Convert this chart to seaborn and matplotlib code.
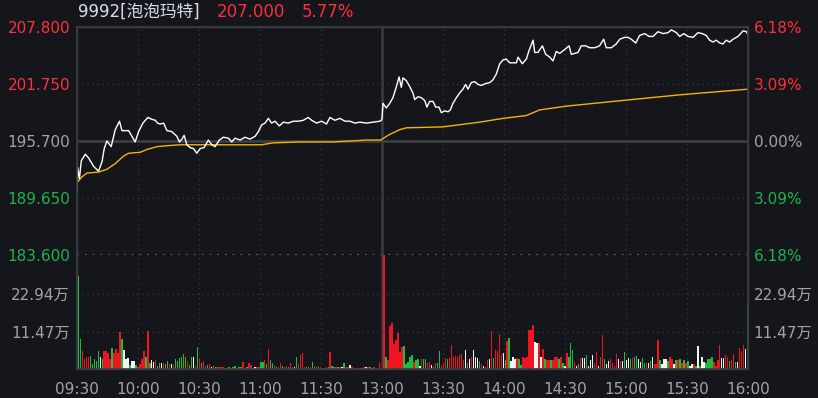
import matplotlib
matplotlib.use("Agg")
import matplotlib.pyplot as plt
import numpy as np
import pandas as pd
import seaborn as sns

# ---- data ----
prev_close = 195.7
price_ticks = [207.8, 201.75, 195.7, 189.65, 183.6]
pct_labels = ['6.18%', '3.09%', '0.00%', '3.09%', '6.18%']
vol_ticks = [11.47, 22.94]
vol_labels = ['11.47万', '22.94万']
time_ticks = [0, 30, 60, 90, 120, 150, 180, 210, 240, 270, 300, 330]
time_labels = ['09:30', '10:00', '10:30', '11:00', '11:30', '13:00',
               '13:30', '14:00', '14:30', '15:00', '15:30', '16:00']

# minute index since 09:30 (lunch break removed)
price_min = [0, 0.3, 1.2, 2.1, 4.1, 5.7, 8.2, 10.6, 12.3, 13.4, 14.7, 16.8, 18.8, 20.9, 22.1,
             25.4, 27.5, 28.6, 30.3, 32.4, 34.9, 36.8, 38.5, 39.6, 40.9, 42.6, 44.2, 46.6,
             49.1, 50.4, 51.6, 52.7, 54.0, 55.6, 57.3, 58.9, 60.6, 62.5, 64.6, 66.3, 67.9,
             70.0, 72.0, 74.5, 76.1, 77.7, 80.2, 82.6, 85.1, 87.6, 89.2, 90.8, 92.5, 94.1,
             95.7, 97.4, 99.5, 101.5, 103.9, 106.4, 108.8, 111.3, 113.7, 115.4, 117.8, 120.3,
             122.7, 124.4, 126.8, 129.3, 131.8, 134.2, 136.7, 139.1, 142.4, 145.7, 148.9, 149.7,
             150.0, 150.5, 152.1, 153.8, 155.4, 156.7, 158.4, 159.5, 160.3, 162.0, 163.6,
             165.2, 166.1, 167.7, 169.3, 171.0, 172.1, 173.4, 175.1, 176.4, 178.0, 179.2,
             180.8, 182.5, 183.6, 184.9, 186.6, 188.2, 189.8, 191.1, 192.3, 193.9, 195.6,
             197.2, 198.9, 201.0, 203.0, 204.6, 206.2, 207.9, 209.5, 211.1, 212.8, 214.4,
             216.1, 216.9, 219.0, 221.0, 222.3, 224.3, 225.1, 226.7, 228.9, 230.5, 232.5,
             234.1, 235.7, 237.4, 239.8, 242.0, 243.1, 244.8, 246.4, 248.0, 250.2, 252.1,
             254.6, 257.0, 259.0, 260.3, 262.8, 265.2, 266.9, 269.3, 271.0, 272.6, 274.8,
             276.7, 279.2, 281.3, 283.3, 285.7, 288.2, 290.7, 292.3, 294.8, 296.4, 298.4,
             300.5, 303.0, 305.4, 307.5, 309.5, 311.1, 312.8, 314.4, 316.1, 317.7, 319.3,
             321.0, 322.6, 325.1, 327.6, 329.2, 330.0]
price = [190.4, 192.9, 191.7, 193.6, 194.3, 193.9, 193.0, 192.5, 193.5, 194.9, 195.7, 195.1,
         196.9, 197.8, 196.8, 196.8, 196.0, 195.6, 196.7, 197.6, 198.2, 198.0, 197.9, 197.6,
         197.5, 197.6, 196.8, 196.7, 196.2, 195.6, 195.9, 196.3, 195.3, 195.0, 194.9, 194.4,
         194.9, 195.0, 195.8, 195.3, 195.1, 195.8, 196.1, 196.0, 195.6, 196.0, 195.8, 196.1,
         195.9, 196.2, 196.7, 197.4, 197.6, 198.1, 197.6, 197.8, 197.3, 197.7, 197.6, 197.8,
         197.8, 197.9, 198.2, 197.9, 197.6, 197.8, 197.5, 198.2, 197.9, 198.1, 197.8, 197.8,
         197.6, 197.7, 197.6, 197.7, 197.8, 197.9,
         198.1, 199.7, 199.2, 199.7, 200.3, 201.2, 202.5, 201.4, 202.4, 202.1, 201.5, 200.8,
         200.1, 200.4, 200.3, 200.0, 199.3, 199.9, 199.9, 199.3, 199.3, 198.7, 198.9, 198.8,
         199.0, 199.7, 200.3, 200.8, 201.2, 201.7, 201.2, 201.9, 202.0, 201.7, 201.6, 201.8,
         201.9, 202.2, 202.8, 203.9, 204.3, 204.4, 204.0, 204.0, 204.0, 204.6, 203.9, 204.4,
         205.3, 206.4, 205.1, 205.1, 205.8, 204.9, 204.6, 204.2, 205.2, 205.0, 205.4, 205.8,
         204.9, 205.0, 205.1, 205.8, 205.8, 205.6, 205.6, 205.8, 206.5, 205.6, 205.6, 206.0,
         206.5, 206.7, 206.7, 206.5, 206.1, 206.9, 207.1, 206.8, 206.8, 207.3, 207.1, 207.2,
         207.5, 207.2, 206.8, 207.1, 206.8, 206.7, 207.2, 207.1, 206.9, 206.4, 206.2, 206.4,
         206.1, 206.0, 206.4, 206.2, 206.5, 206.8, 207.4, 207.3, 207.0]

avg_min = [0, 2.5, 4.9, 10.6, 14.7, 18.8, 22.9, 25.4, 31.1, 34.4, 39.3, 44.2, 50.7, 90.8,
           96.3, 109.5, 126.0, 142.4, 149.7, 150.0, 153.8, 158.7, 162.0, 180.0, 198.0,
           209.5, 221.0, 227.5, 240.7, 263.6, 296.4, 330.0]
avg_price = [191.3, 191.9, 192.3, 192.4, 192.7, 193.3, 194.1, 194.4, 194.5, 194.8, 195.1,
             195.2, 195.3, 195.3, 195.5, 195.6, 195.6, 195.8, 195.8, 195.9, 196.4, 196.9,
             197.1, 197.2, 197.7, 198.1, 198.4, 199.0, 199.4, 199.9, 200.6, 201.2]

# volume per minute (万 shares); colour code r=up g=down w=flat
vol_am = [28.4, 9.2, 5.6, 3.1, 3.8, 3.6, 4.0, 1.5, 3.1, 2.5, 5.5, 3.7, 3.2, 5.5, 5.5, 4.8,
          3.1, 6.5, 4.8, 6.1, 4.8, 11.3, 9.2, 5.8, 3.1, 3.5, 1.1, 2.5, 2.5, 1.1, 0.6, 1.4,
          3.1, 5.5, 3.7, 11.7, 1.7, 2.8, 2.3, 2.9, 0.9, 1.7, 1.8, 1.7, 1.5, 2.5, 1.4, 1.5,
          1.1, 3.0, 2.6, 3.5, 3.8, 4.6, 3.8, 2.5, 1.1, 3.6, 3.7, 0.9, 6.8, 3.1, 1.7, 2.5,
          0.9, 1.1, 1.6, 0.7, 0.9, 0.5, 0.6, 0.6, 0.5, 0.5, 0.2, 0.3, 0.5, 0.4, 0.5, 0.9,
          0.4, 0.5, 0.5, 2.3, 0.4, 0.7, 1.7, 1.1, 0.4, 0.7, 0.5, 0.5, 2.2, 2.2, 2.8, 1.4,
          6.1, 2.8, 1.7, 1.1, 0.7, 0.7, 1.7, 0.9, 0.5, 0.9, 0.7, 1.9, 0.5, 0.7, 3.6, 1.5,
          4.3, 5.0, 0.5, 0.5, 0.9, 0.5, 2.2, 0.9, 0.7, 0.9, 0.5, 0.4, 0.4, 0.5, 0.5, 5.2,
          0.9, 0.7, 0.5, 0.5, 0.6, 0.7, 1.7, 0.5, 0.5, 1.1, 0.5, 0.4, 0.3, 0.4, 0.3, 0.4,
          0.5, 0.5, 0.6, 0.5, 0.4, 0.5, 0.4, 0.3, 2.2]
col_am = ("ggrrrrgggg" "gwgrrrrgrr" "rrgwwwgwwg" "rrrrgrgwwr" "ggwrggrwrg"
          "gggggrggwr" "grgrrgrwgg" "rrrrrwgggg" "rggrrgrrww" "rrggrgrggr"
          "grrgrrgrrw" "grrrrgrrgr" "grrwrrgrgg" "rgrwgrrwrr" "rrrwrwrgwr" "rrr")
vol_pm = [36.0, 3.7, 2.8, 13.3, 14.2, 7.7, 8.9, 11.0, 5.3,
          6.9, 7.1, 1.5, 2.3, 3.8, 4.3, 2.3, 2.8, 3.0, 0.9,
          3.0, 3.0, 3.0, 1.7, 2.3, 1.3, 0.7, 1.7, 1.9, 5.6,
          0.9, 1.7, 3.5, 3.1, 3.3, 7.4, 3.6, 4.0, 3.6, 4.3,
          4.5, 2.8, 5.8, 1.9, 3.1, 3.8, 5.8, 3.8, 3.3, 2.5,
          1.4, 0.9, 0.7, 2.8, 3.0, 11.7, 3.3, 5.8, 5.6, 10.8,
          4.5, 4.8, 2.8, 8.6, 9.4, 2.5, 3.8, 3.0, 3.3, 3.0,
          1.2, 3.8, 3.3, 3.6, 12.0, 12.0, 13.5, 8.2, 7.9, 7.9,
          3.8, 6.0, 3.1, 2.8, 2.8, 2.8, 2.8, 3.6, 3.8, 3.2,
          3.8, 1.7, 0.9, 5.0, 3.8, 8.1, 5.8, 2.3, 0.9, 1.5,
          3.3, 3.5, 3.5, 4.3, 0.9, 2.8, 4.3, 1.9, 5.3, 0.9,
          3.8, 10.4, 3.0, 1.4, 2.6, 3.0, 1.7, 0.9, 4.6, 3.0,
          2.5, 2.5, 5.1, 2.8, 3.5, 3.0, 3.3, 3.8, 4.0, 3.0,
          2.3, 3.5, 1.7, 1.9, 1.9, 2.5, 3.8, 1.4, 1.4, 8.9,
          2.8, 1.4, 3.0, 3.0, 2.5, 3.6, 3.0, 1.4, 2.8, 2.8,
          3.0, 1.7, 2.8, 1.7, 2.6, 0.9, 1.5, 1.4, 0.9, 7.1,
          0.9, 3.8, 2.3, 1.9, 3.0, 3.2, 3.8, 2.3, 0.9, 2.8,
          7.4, 3.3, 3.5, 4.3, 3.8, 2.5, 2.8, 4.5, 2.3, 2.3,
          6.6, 5.6, 7.4, 6.0, 20.2]
col_pm = ("rgrrrrrrr"
          "rgggggrggw" "rggrrwgrgg" "rrrgrrrrrr" "rrwgwrwwwg" "rwgrwrgrrr"
          "rwgrgwwwrg" "grrrrrrwwr" "wrgrrgrrrg" "rgwrgggrwg" "rwwgwwwrrw"
          "rrgwwrrrrw" "rwgwwgrggw" "wggrwgwrrr" "gwwwgrrwgr" "grgrgwwrgw"
          "gwwggggrrr" "rwwrrgrrgw" "rrrwg")

assert len(vol_am) == len(col_am) and len(vol_pm) == len(col_pm)

# ---- style ----
BG = '#14161b'
GRID = '#3a3b40'
RED = '#ff2f3a'
GREEN = '#1db34a'
GREY = '#a3a3a3'
bar_colors = {'r': '#ee1520', 'g': '#1bbd3a', 'w': '#f4f4f4'}

sns.set_theme(style='dark', rc={'axes.facecolor': BG, 'figure.facecolor': BG,
                                'axes.edgecolor': GRID, 'axes.grid': False})
plt.rcParams['font.family'] = ['DejaVu Sans', 'Noto Sans CJK SC']

df_price = pd.DataFrame({'minute': price_min, 'price': price})
df_avg = pd.DataFrame({'minute': avg_min, 'price': avg_price})
n_am, n_pm = len(vol_am), len(vol_pm)
df_vol = pd.DataFrame({
    'minute': np.concatenate([np.linspace(0.7, 148.9, n_am), np.linspace(151.0, 329.8, n_pm)]),
    'vol': vol_am + vol_pm,
    'c': list(col_am) + list(col_pm),
})

fig = plt.figure(figsize=(8.18, 3.98), dpi=100)
ax = fig.add_axes([77 / 818, 1 - 255 / 398, 671 / 818, 228 / 398])
axv = fig.add_axes([77 / 818, 1 - 369 / 398, 671 / 818, 114 / 398], sharex=ax)

# grid
for t in time_ticks[1:-1]:
    if t == 150:
        continue
    for a in (ax, axv):
        a.axvline(t, color=GRID, lw=0.9, ls=(0, (1, 3)), zorder=0)
for y in (201.75, 189.65):
    ax.axhline(y, color=GRID, lw=0.9, ls=(0, (1, 3)), zorder=0)
for y in vol_ticks:
    axv.axhline(y, color=GRID, lw=0.9, ls=(0, (1, 3)), zorder=0)
ax.axhline(prev_close, color='#3c3d42', lw=2, zorder=0)
# panel separator: dotted line at the bottom of the price panel
ax.axhline(price_ticks[-1], color='#55565b', lw=1.6, ls=(0, (1, 2.5)), zorder=1, clip_on=False)
for a in (ax, axv):
    a.axvline(150, color='#3a3b3f', lw=1.8, zorder=0)

# price + average
sns.lineplot(data=df_avg, x='minute', y='price', ax=ax, color='#f5b400', lw=1, zorder=3)
sns.lineplot(data=df_price, x='minute', y='price', ax=ax, color='white', lw=1, zorder=4)

# volume: thin bar per minute
axv.bar(df_vol['minute'], df_vol['vol'], width=0.7,
        color=[bar_colors[c] for c in df_vol['c']], linewidth=0, zorder=3)

ax.set_xlim(0, 330)
ax.set_ylim(183.6, 207.8)
axv.set_ylim(0, 35)

for a in (ax, axv):
    a.set_xlabel('')
    a.set_ylabel('')
    for s in a.spines.values():
        s.set_color(GRID)
        s.set_linewidth(1)
ax.spines['bottom'].set_visible(False)
axv.spines['top'].set_visible(False)

ax.tick_params(axis='x', bottom=False, labelbottom=False)
ax.set_yticks(price_ticks)
ax.set_yticklabels(['%.3f' % p for p in price_ticks])
ax.tick_params(axis='y', length=0, pad=5, labelsize=11)
lab_cols = [RED, RED, GREY, GREEN, GREEN]
for lab, c in zip(ax.get_yticklabels(), lab_cols):
    lab.set_color(c)

axr = ax.twinx()
axr.set_ylim(ax.get_ylim())
axr.set_yticks(price_ticks)
axr.set_yticklabels(pct_labels)
axr.tick_params(axis='y', length=0, pad=4, labelsize=11)
for lab, c in zip(axr.get_yticklabels(), lab_cols):
    lab.set_color(c)
for s in axr.spines.values():
    s.set_color(GRID)
axr.spines['bottom'].set_visible(False)
axr.grid(False)

axv.set_yticks(vol_ticks)
axv.set_yticklabels(vol_labels)
axv.tick_params(axis='y', length=0, pad=5, labelsize=11, labelcolor=GREY)
axvr = axv.twinx()
axvr.set_ylim(axv.get_ylim())
axvr.set_yticks(vol_ticks)
axvr.set_yticklabels(vol_labels)
axvr.tick_params(axis='y', length=0, pad=4, labelsize=11, labelcolor=GREY)
axvr.spines['top'].set_visible(False)
for s in axvr.spines.values():
    s.set_color(GRID)
axvr.grid(False)

axv.set_xticks(time_ticks)
axv.set_xticklabels(time_labels)
axv.tick_params(axis='x', length=0, pad=9, labelsize=11, labelcolor=GREY)

# header
fig.text(78 / 818, 1 - 12 / 398, '9992[泡泡玛特]', color='#d9dde3', fontsize=12, va='center')
fig.text(217 / 818, 1 - 12 / 398, '207.000', color=RED, fontsize=12, va='center')
fig.text(302 / 818, 1 - 12 / 398, '5.77%', color=RED, fontsize=12, va='center')

fig.savefig('out.png', dpi=100, facecolor=BG)
